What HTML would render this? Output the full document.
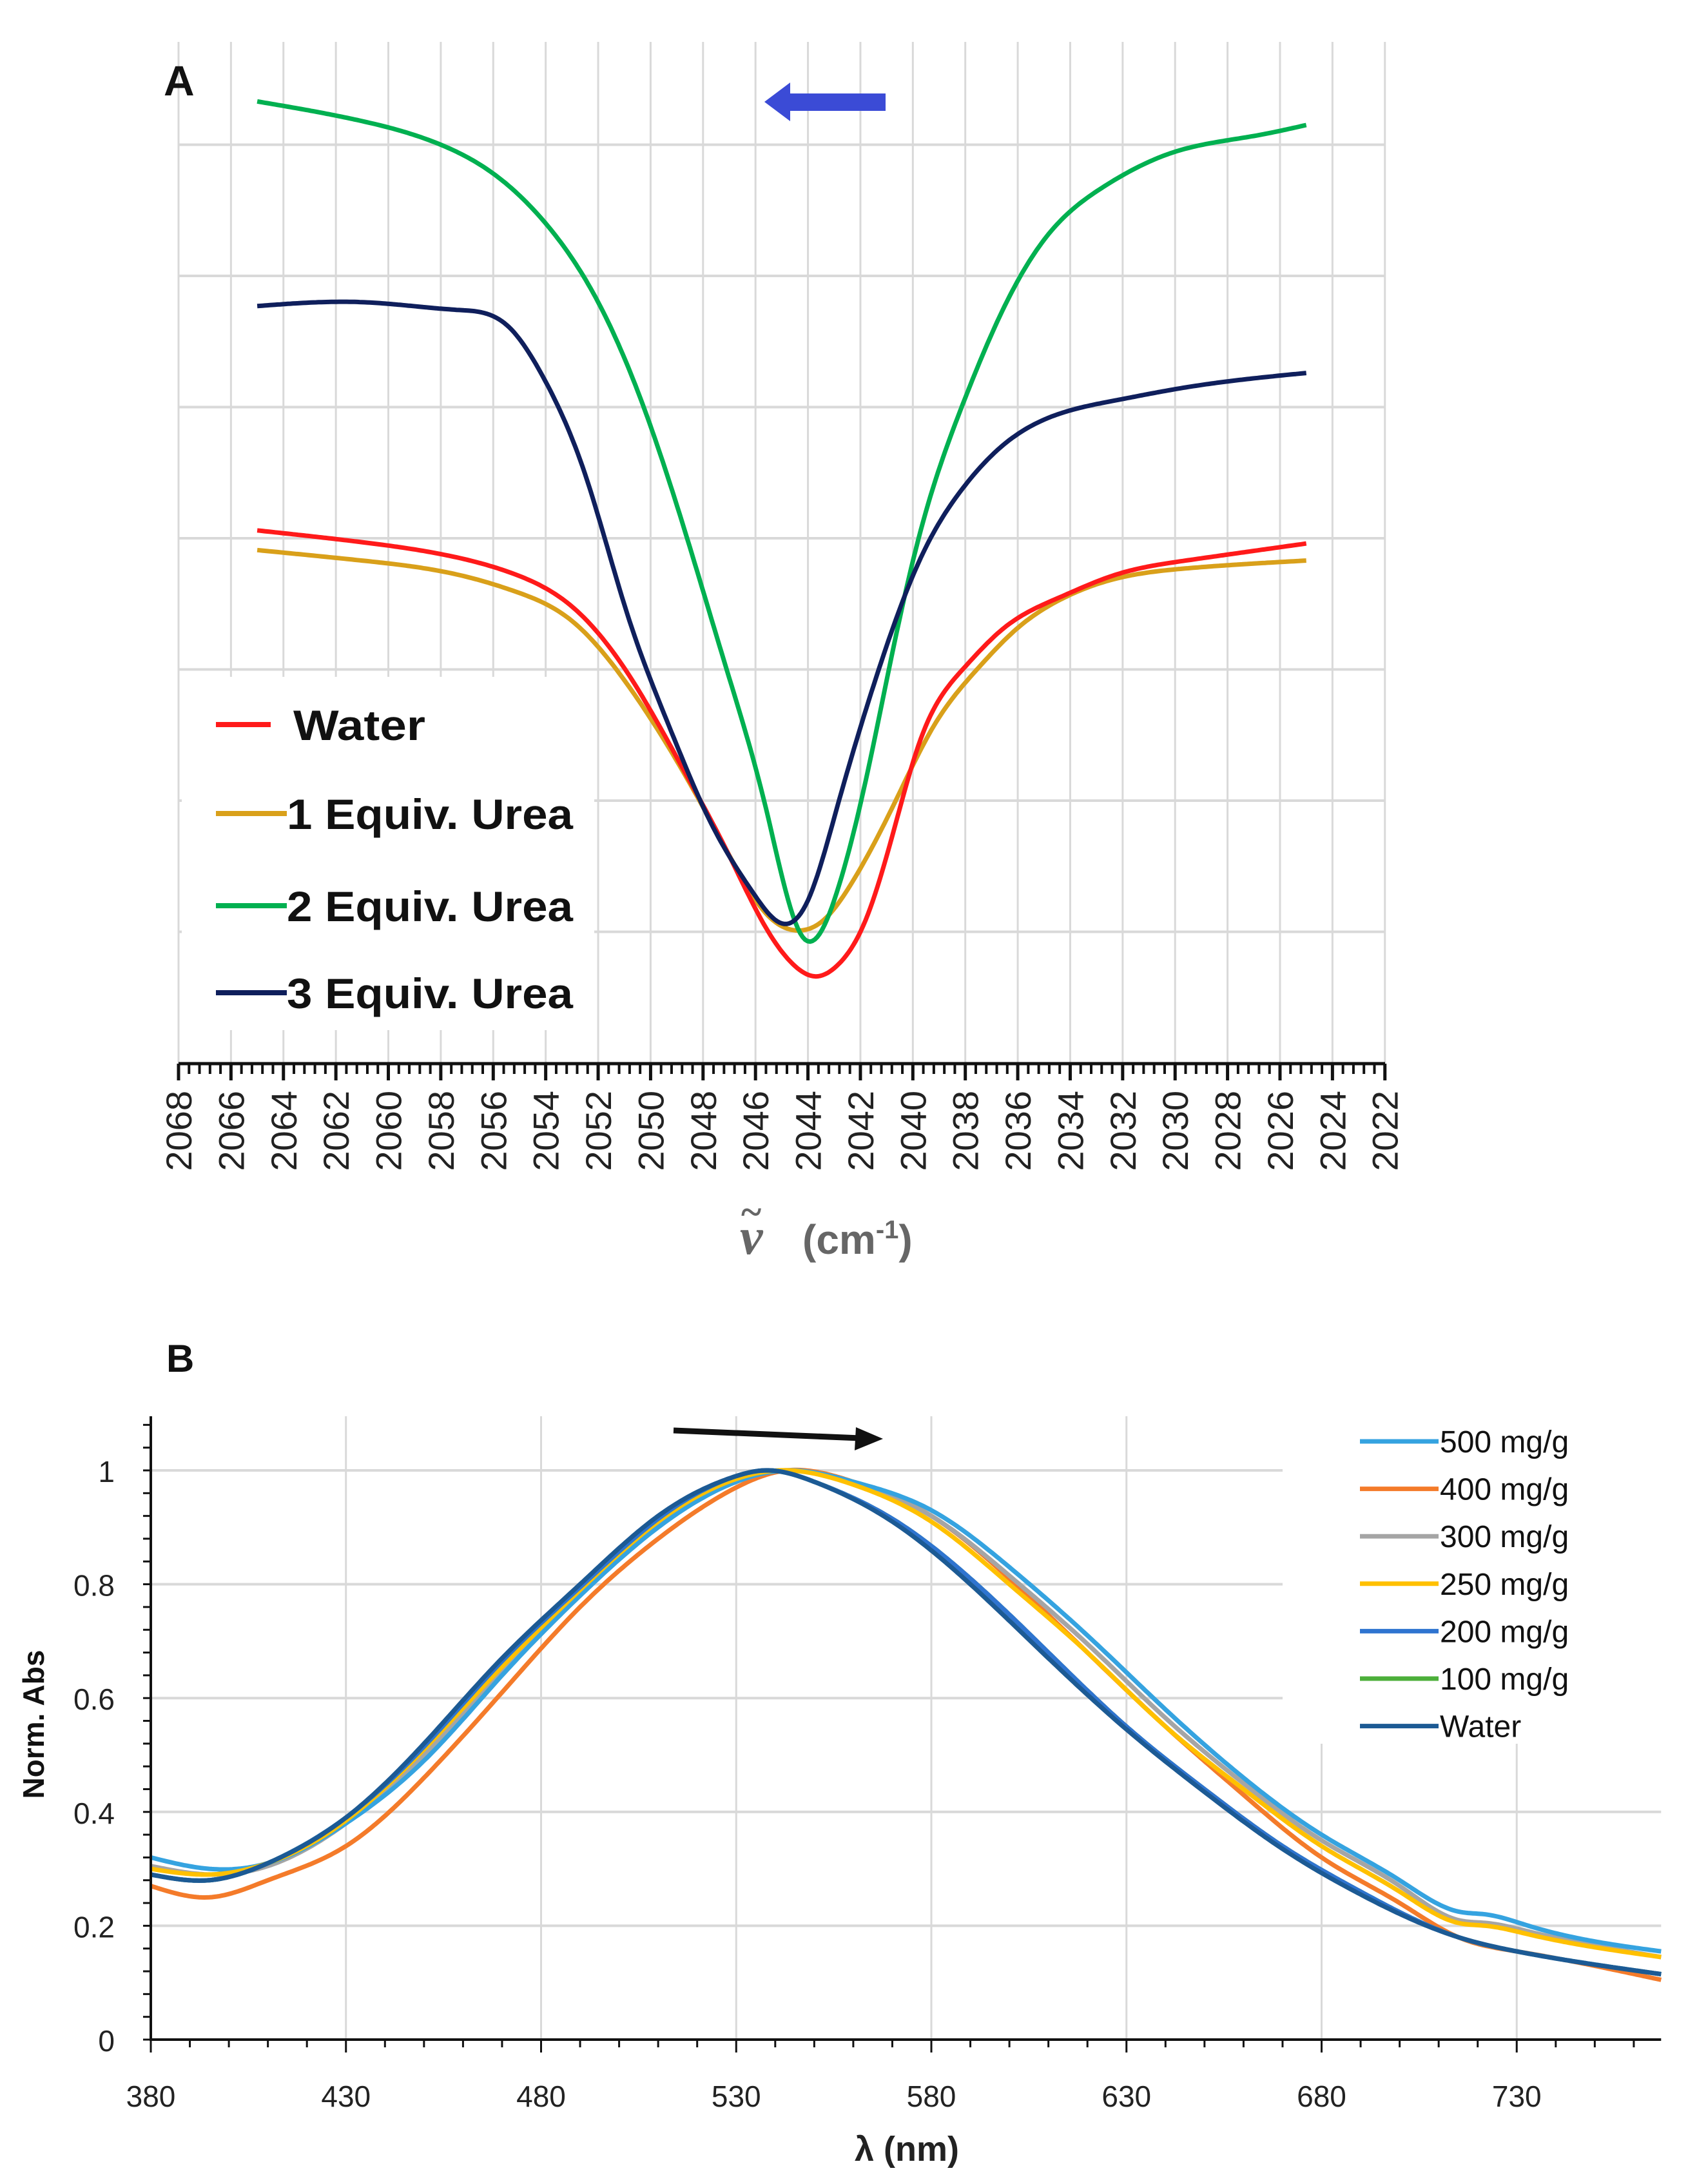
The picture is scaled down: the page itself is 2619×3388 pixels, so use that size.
<!DOCTYPE html>
<html><head><meta charset="utf-8"><style>
html,body{margin:0;padding:0;background:#fff;}
svg{display:block;font-family:"Liberation Sans",sans-serif;}
</style></head><body>
<svg id="fig" width="2619" height="3388" viewBox="0 0 2619 3388" xmlns="http://www.w3.org/2000/svg">
<g id="pa"></g>
<g id="pb"></g>
</svg>
<script>
// ---------- Panel A data ----------
const aTicks = [2068,2066,2064,2062,2060,2058,2056,2054,2052,2050,2048,2046,2044,2042,2040,2038,2036,2034,2032,2030,2028,2026,2024,2022];
const aWaterX = [2065.0,2061.0,2057.3,2055.1,2053.0,2050.9,2048.7,2047.1,2045.6,2044.5,2043.7,2042.9,2041.8,2040.8,2039.7,2038.1,2036.5,2034.4,2032.3,2029.6,2025.0];
const aWaterY = [4.06,3.97,3.85,3.72,3.48,2.98,2.22,1.62,1.03,0.74,0.66,0.74,1.09,1.72,2.47,3.0,3.32,3.55,3.72,3.83,3.96];
const aU1X = [2065.0,2061.0,2057.3,2055.1,2053.0,2050.9,2048.7,2047.1,2045.6,2044.4,2043.4,2042.4,2040.8,2039.2,2037.6,2035.98,2034.4,2032.3,2029.6,2025.0];
const aU1Y = [3.91,3.83,3.72,3.59,3.37,2.89,2.20,1.62,1.14,1.01,1.09,1.35,1.94,2.57,2.99,3.32,3.53,3.69,3.77,3.83];
const aU2X = [2065.0,2061.0,2058.0,2056.0,2054.0,2052.0,2050.3,2048.7,2047.1,2045.6,2044.2,2042.9,2041.8,2040.8,2039.7,2038.1,2036.5,2034.9,2032.8,2030.1,2026.9,2025.0];
const aU2Y = [7.33,7.18,7.0,6.78,6.40,5.80,5.02,4.06,3.0,1.94,0.96,1.30,2.15,3.11,4.06,5.02,5.77,6.30,6.67,6.94,7.07,7.15];
const aU3X = [2065.0,2061.0,2057.3,2055.4,2054.1,2052.5,2050.9,2049.3,2047.7,2046.1,2044.9,2044.0,2042.9,2041.3,2039.7,2038.1,2036.5,2034.4,2032.3,2029.6,2025.0];
const aU3Y = [5.77,5.80,5.74,5.61,5.23,4.49,3.43,2.57,1.83,1.30,1.06,1.24,1.94,3.0,3.85,4.38,4.72,4.95,5.05,5.15,5.26];

// ---------- Panel B data ----------
const bTicksX = [380,430,480,530,580,630,680,730];
const bTicksY = [0,0.2,0.4,0.6,0.8,1];
const bTickLabelsY = ["0","0.2","0.4","0.6","0.8","1"];
const b500X = [380,395,410,430,450,470,490,510,530,543,560,580,600,620,640,660,680,700,715,722,733,767];
const b500Y = [0.32,0.30,0.31,0.38,0.49,0.64,0.78,0.90,0.98,1.0,0.98,0.93,0.83,0.71,0.58,0.46,0.36,0.28,0.225,0.22,0.20,0.155];
const b400X = [380,395,410,430,450,470,490,510,530,543,560,580,600,620,640,660,680,700,715,730,767];
const b400Y = [0.27,0.25,0.28,0.34,0.46,0.61,0.76,0.88,0.97,1.0,0.98,0.92,0.81,0.68,0.55,0.43,0.32,0.24,0.18,0.155,0.105];
const b300X = [380,395,410,430,450,470,490,510,530,542,560,580,600,620,640,660,680,700,715,722,733,767];
const b300Y = [0.305,0.29,0.305,0.38,0.50,0.645,0.785,0.905,0.98,1.0,0.978,0.92,0.815,0.695,0.565,0.45,0.35,0.27,0.21,0.205,0.19,0.145];
const b250X = [380,395,410,430,450,470,490,510,530,541,560,580,600,620,640,660,680,700,715,722,733,767];
const b250Y = [0.30,0.29,0.31,0.385,0.51,0.655,0.79,0.91,0.985,1.0,0.975,0.91,0.80,0.68,0.55,0.44,0.34,0.26,0.205,0.20,0.185,0.145];
const b200X = [380,395,410,430,450,470,490,510,530,538,550,570,590,610,630,650,670,690,715,730,767];
const b200Y = [0.29,0.28,0.31,0.39,0.515,0.665,0.795,0.915,0.99,1.0,0.98,0.915,0.81,0.68,0.55,0.44,0.34,0.26,0.18,0.155,0.115];
const b100X = [380,395,410,430,450,470,490,510,530,538,550,570,590,610,630,650,670,690,715,730,767];
const b100Y = [0.29,0.28,0.31,0.39,0.515,0.665,0.795,0.915,0.99,1.0,0.98,0.915,0.81,0.68,0.55,0.44,0.34,0.26,0.18,0.155,0.115];
const bWaterX = [380,395,410,430,450,470,490,510,530,537,550,570,590,610,630,650,670,690,715,730,767];
const bWaterY = [0.29,0.28,0.31,0.39,0.52,0.67,0.80,0.92,0.99,1.0,0.98,0.91,0.80,0.67,0.545,0.435,0.335,0.255,0.18,0.155,0.115];

const NS = "http://www.w3.org/2000/svg";
function mk(parent, tag, attrs, text){
  const e = document.createElementNS(NS, tag);
  for (const k in attrs) e.setAttribute(k, attrs[k]);
  if (text !== undefined) e.textContent = text;
  parent.appendChild(e);
  return e;
}
// natural cubic spline through points sorted by x, sampled densely
function splinePath(pts){
  pts = pts.slice().sort((a,b)=>a[0]-b[0]);
  const n = pts.length, xs = pts.map(p=>p[0]), ys = pts.map(p=>p[1]);
  const h = [], al = [0], l = [1], mu = [0], z = [0], c = new Array(n).fill(0), b = [], d = [];
  for (let i=0;i<n-1;i++) h.push(xs[i+1]-xs[i]);
  for (let i=1;i<n-1;i++) al.push(3/h[i]*(ys[i+1]-ys[i]) - 3/h[i-1]*(ys[i]-ys[i-1]));
  for (let i=1;i<n-1;i++){ l[i]=2*(xs[i+1]-xs[i-1])-h[i-1]*mu[i-1]; mu[i]=h[i]/l[i]; z[i]=(al[i]-h[i-1]*z[i-1])/l[i]; }
  for (let j=n-2;j>=0;j--){ c[j]=(j>0? z[j]-mu[j]*c[j+1] : 0); b[j]=(ys[j+1]-ys[j])/h[j]-h[j]*(c[j+1]+2*c[j])/3; d[j]=(c[j+1]-c[j])/(3*h[j]); }
  let s = "M"+xs[0].toFixed(1)+","+ys[0].toFixed(1);
  for (let j=0;j<n-1;j++){
    const steps = Math.max(2, Math.ceil(h[j]/4));
    for (let k=1;k<=steps;k++){
      const t = h[j]*k/steps;
      const y = ys[j]+b[j]*t+c[j]*t*t+d[j]*t*t*t;
      s += " L"+(xs[j]+t).toFixed(1)+","+y.toFixed(1);
    }
  }
  return s;
}

// ================= Panel A =================
const pa = document.getElementById("pa");
const axA = v => 277 + (2068 - v) * 40.69;
const ayA = u => 1649 - u * 203.5;

aTicks.forEach(t => {
  const l = mk(pa, "line", {x1: axA(t), x2: axA(t), y1: 65, y2: 1649, stroke: "#d9d9d9", "stroke-width": 3});
  
  
});
for (let u = 1; u <= 7; u++){
  const l = mk(pa, "line", {x1: 277, x2: 2149, y1: ayA(u), y2: ayA(u), stroke: "#d9d9d9", "stroke-width": 4});
  
  
}
const lgA = mk(pa, "rect", {x: 282, y: 1050, width: 640, height: 548, fill: "#fff"});



const axisA = mk(pa, "line", {x1: 277, x2: 2149, y1: 1650, y2: 1650, stroke: "#111", "stroke-width": 5});


for (let v = 2068; v >= 2022 - 0.001; v -= 0.4){
  const major = Math.abs(Math.round(v/2)*2 - v) < 0.01;
  const t = mk(pa, "line", {x1: axA(v), x2: axA(v), y1: 1650, y2: major ? 1676 : 1666, stroke: "#111", "stroke-width": major ? 5 : 4});
  
  
}
aTicks.forEach(t => {
  const x = axA(t) + 20, y = 1692;
  const tx = mk(pa, "text", {x: x, y: y, "font-size": 56, fill: "#222", "text-anchor": "end", transform: "rotate(-90 " + x + " " + y + ")"}, String(t));
  
  
});
const tA = mk(pa, "text", {x: 1148, y: 1945, "font-size": 80, fill: "#666", "font-family": "Liberation Serif, serif", "font-style": "italic", "font-weight": "bold"}, "ν");


const tAt = mk(pa, "text", {x: 1150, y: 1900, "font-size": 60, fill: "#666", "font-family": "Liberation Serif, serif", "font-weight": "bold"}, "~");


const tA2 = mk(pa, "text", {x: 1245, y: 1945, "font-size": 64, fill: "#666", "font-weight": "bold"});


tA2.innerHTML = '(cm<tspan dy="-24" font-size="40">-1</tspan><tspan dy="24">)</tspan>';

const seriesA = [
  {x: aU1X, y: aU1Y, c: "#d9a01a", n: "a-series-1-equiv-urea"},
  {x: aWaterX, y: aWaterY, c: "#ff1a1a", n: "a-series-water"},
  {x: aU2X, y: aU2Y, c: "#00b050", n: "a-series-2-equiv-urea"},
  {x: aU3X, y: aU3Y, c: "#0f1f5c", n: "a-series-3-equiv-urea"}
];
seriesA.forEach(s => {
  const pts = s.x.map((v,i) => [axA(v), ayA(s.y[i])]);
  const p = mk(pa, "path", {d: splinePath(pts), fill: "none", stroke: s.c, "stroke-width": 7, "stroke-linejoin": "round"});
  
  
});

const legA = [["Water", "#ff1a1a", 1124, 335], ["1 Equiv. Urea", "#d9a01a", 1262, 335], ["2 Equiv. Urea", "#00b050", 1405, 335], ["3 Equiv. Urea", "#0f1f5c", 1540, 335]];
legA.forEach((e, i) => {
  const g = mk(pa, "g", {});
  
  
  mk(g, "line", {x1: e[3], x2: i === 0 ? 420 : 445, y1: e[2], y2: e[2], stroke: e[1], "stroke-width": 8});
  mk(g, "text", {x: i === 0 ? 455 : 445, y: e[2] + 24, "font-size": 66, "font-weight": "bold", fill: "#111", textLength: i === 0 ? 205 : 444, lengthAdjust: "spacingAndGlyphs"}, e[0]);
});
const labA = mk(pa, "text", {x: 254, y: 148, "font-size": 66, "font-weight": "bold", fill: "#111"}, "A");


const arrA = mk(pa, "path", {d: "M1186,158 L1226,128 L1226,145 L1374,145 L1374,172 L1226,172 L1226,188 Z", fill: "#3b4bd6"});



// ================= Panel B =================
const pb = document.getElementById("pb");
const axB = v => 234 + (v - 380) * 6.055;
const ayB = u => 3164 - u * 883;
const xEnd = axB(767);

bTicksY.forEach(t => {
  if (t === 0) return;
  const l = mk(pb, "line", {x1: axB(380), x2: xEnd, y1: ayB(t), y2: ayB(t), stroke: "#d9d9d9", "stroke-width": 4});
  
  
});
bTicksX.forEach(t => {
  if (t === 380) return;
  const l = mk(pb, "line", {x1: axB(t), x2: axB(t), y1: 2197, y2: 3164, stroke: "#d9d9d9", "stroke-width": 3});
  
  
});
const lgB = mk(pb, "rect", {x: 1990, y: 2185, width: 629, height: 520, fill: "#fff"});



const seriesB = [
  {x: b400X, y: b400Y, c: "#f47b2a", n: "b-series-400"},
  {x: b300X, y: b300Y, c: "#a5a5a5", n: "b-series-300"},
  {x: b500X, y: b500Y, c: "#35a3e0", n: "b-series-500"},
  {x: b250X, y: b250Y, c: "#ffc000", n: "b-series-250"},
  {x: b100X, y: b100Y, c: "#4caf3a", n: "b-series-100"},
  {x: b200X, y: b200Y, c: "#2f74d0", n: "b-series-200"},
  {x: bWaterX, y: bWaterY, c: "#1c5a94", n: "b-series-water"}
];
seriesB.forEach(s => {
  const pts = s.x.map((v,i) => [axB(v), ayB(s.y[i])]);
  const p = mk(pb, "path", {d: splinePath(pts), fill: "none", stroke: s.c, "stroke-width": 7, "stroke-linejoin": "round"});
  
  
});

const yAx = mk(pb, "line", {x1: 234, x2: 234, y1: 2197, y2: 3164, stroke: "#111", "stroke-width": 4});


const xAx = mk(pb, "line", {x1: 232, x2: xEnd, y1: 3164, y2: 3164, stroke: "#111", "stroke-width": 4});


for (let u = 0; u <= 1.09; u += 0.04){
  const t = mk(pb, "line", {x1: 234, x2: 222, y1: ayB(u), y2: ayB(u), stroke: "#111", "stroke-width": 3});
  
  
}
for (let v = 380; v <= 767; v += 10){
  const major = (v - 380) % 50 === 0;
  const t = mk(pb, "line", {x1: axB(v), x2: axB(v), y1: 3164, y2: major ? 3184 : 3176, stroke: "#111", "stroke-width": 3});
  
  
}
bTicksY.forEach((t, i) => {
  const tx = mk(pb, "text", {x: 178, y: ayB(t) + 18, "font-size": 46, fill: "#222", "text-anchor": "end"}, bTickLabelsY[i]);
  
  
});
bTicksX.forEach(t => {
  const tx = mk(pb, "text", {x: axB(t), y: 3268, "font-size": 46, fill: "#222", "text-anchor": "middle"}, String(t));
  
  
});
const xt = mk(pb, "text", {x: 1407, y: 3352, "font-size": 54, "font-weight": "bold", fill: "#222", "text-anchor": "middle"}, "λ (nm)");


const yt = mk(pb, "text", {x: 0, y: 0, "font-size": 46, "font-weight": "bold", fill: "#111", "text-anchor": "middle", transform: "translate(68 2675) rotate(-90)"}, "Norm. Abs");


const labB = mk(pb, "text", {x: 258, y: 2128, "font-size": 60, "font-weight": "bold", fill: "#111"}, "B");


const arrB = mk(pb, "g", {});


mk(arrB, "line", {x1: 1045, y1: 2219, x2: 1335, y2: 2231, stroke: "#111", "stroke-width": 9});
mk(arrB, "path", {d: "M1370,2232 L1328,2214 L1326,2250 Z", fill: "#111"});

const legB = [["500 mg/g", "#35a3e0"], ["400 mg/g", "#f47b2a"], ["300 mg/g", "#a5a5a5"], ["250 mg/g", "#ffc000"], ["200 mg/g", "#2f74d0"], ["100 mg/g", "#4caf3a"], ["Water", "#1c5a94"]];
legB.forEach((e, i) => {
  const y = 2236 + i * 73.6;
  const g = mk(pb, "g", {});
  
  
  mk(g, "line", {x1: 2110, x2: 2232, y1: y, y2: y, stroke: e[1], "stroke-width": 7});
  mk(g, "text", {x: 2234, y: y + 17, "font-size": 48, fill: "#111"}, e[0]);
});
</script>
</body></html>
